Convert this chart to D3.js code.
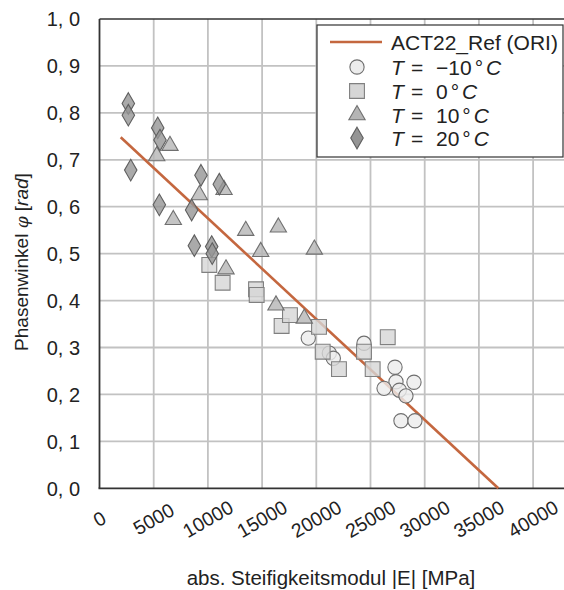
<!DOCTYPE html>
<html><head><meta charset="utf-8">
<script src="https://cdn.jsdelivr.net/npm/d3@7"></script>
<style>
html,body{margin:0;padding:0;background:#fff;}
svg{display:block;font-family:"Liberation Sans",Arial,Helvetica,sans-serif;}
</style></head>
<body>
<svg id="c" width="564" height="590"></svg>
<script>
// ---- data ----
const xTicks = [0,5000,10000,15000,20000,25000,30000,35000,40000];
const yTicks = [0,0.1,0.2,0.3,0.4,0.5,0.6,0.7,0.8,0.9,1.0];

const tM10_x = [19260,21200,21570,24400,27260,27350,26250,27660,29010,28270,27810,29100];
const tM10_y = [0.320,0.288,0.277,0.309,0.258,0.227,0.213,0.209,0.226,0.197,0.144,0.144];

const t0_x = [10130,11360,14440,14500,16800,17570,20250,20590,22090,24400,25200,26590];
const t0_y = [0.476,0.438,0.424,0.412,0.346,0.369,0.344,0.291,0.254,0.291,0.254,0.322];

const t10_x = [5280,6500,6810,9210,11490,11670,13490,14870,16500,19820,16280,18890];
const t10_y = [0.708,0.730,0.572,0.625,0.636,0.467,0.549,0.504,0.556,0.509,0.390,0.362];

const t20_x = [2660,2660,2880,5370,5580,5520,9360,11050,8500,8750,10350,10400];
const t20_y = [0.820,0.795,0.678,0.768,0.742,0.604,0.667,0.648,0.593,0.517,0.515,0.500];

const refX = [1955,36790];
const refY = [0.748,0.0];

const legendLabels = ["\u221210","0","10","20"];

// ---- chart ----
const svg = d3.select("#c");
const L = 99.5, B = 488.3, T = 19;
const x = d3.scaleLinear().domain([0,43000]).range([L, L + 43000/5000*54.2]);
const y = d3.scaleLinear().domain([0,1]).range([B, T]);
const R = x.range()[1];

const grid = svg.append("g");
grid.selectAll("line.v").data(xTicks.filter(d=>d>0)).join("line")
  .attr("x1",d=>x(d)).attr("x2",d=>x(d)).attr("y1",B).attr("y2",T)
  .attr("stroke","#c2c2c2").attr("stroke-width",1.8);
grid.selectAll("line.h").data(yTicks.filter(d=>d>0 && d<1)).join("line")
  .attr("y1",d=>y(d)).attr("y2",d=>y(d)).attr("x1",L).attr("x2",R)
  .attr("stroke","#c2c2c2").attr("stroke-width",1.8);

// frame
svg.append("line").attr("x1",L).attr("x2",R).attr("y1",T).attr("y2",T).attr("stroke","#333").attr("stroke-width",1.6);
svg.append("line").attr("x1",L).attr("x2",L).attr("y1",T).attr("y2",B).attr("stroke","#333").attr("stroke-width",1.8);
svg.append("line").attr("x1",L-1).attr("x2",R).attr("y1",B).attr("y2",B).attr("stroke","#333").attr("stroke-width",1.8);

// y tick labels
svg.append("g").selectAll("text").data(yTicks).join("text")
  .attr("x",80).attr("y",d=>y(d)).attr("dy","0.36em")
  .attr("text-anchor","end").attr("font-size",20).attr("fill","#222")
  .text(d=>d3.format(".1f")(d).replace(".", ", "));

// x tick labels rotated
svg.append("g").selectAll("text").data(xTicks).join("text")
  .attr("transform",d=>`translate(${x(d)},519) rotate(-30)`)
  .attr("text-anchor","middle").attr("dy","0.35em")
  .attr("font-size",19.5).attr("fill","#222")
  .text(d=>String(d));

// axis titles
const yt = svg.append("text").attr("transform","translate(28,262) rotate(-90)")
  .attr("text-anchor","middle").attr("font-size",19).attr("fill","#222");
yt.append("tspan").text("Phasenwinkel ");
yt.append("tspan").attr("font-style","italic").attr("font-family","DejaVu Serif").attr("font-size",17).text("\u03C6");
yt.append("tspan").text(" [");
yt.append("tspan").attr("font-style","italic").text("rad");
yt.append("tspan").text("]");

svg.append("text").attr("x",331).attr("y",585).attr("text-anchor","middle")
  .attr("font-size",20.5).attr("fill","#222").text("abs. Steifigkeitsmodul |E| [MPa]");

// regression line
const line = d3.line().x(d=>x(d[0])).y(d=>y(d[1]));
svg.append("path").datum(d3.zip(refX,refY)).attr("d",line)
  .attr("fill","none").attr("stroke","#c4673f").attr("stroke-width",2.6);

// markers
const series = [
  {xs:tM10_x, ys:tM10_y, type:d3.symbolCircle, size:160, fill:"#ececec", stroke:"#6f6f6f"},
  {xs:t0_x, ys:t0_y, type:d3.symbolSquare, size:220, fill:"#d6d6d6", stroke:"#808080"},
  {xs:t10_x, ys:t10_y, type:d3.symbolTriangle, size:115, fill:"#b5b5b5", stroke:"#707070"},
  {xs:t20_x, ys:t20_y, type:d3.symbolDiamond, size:135, fill:"#959595", stroke:"#5f5f5f"}
];
series.forEach(s=>{
  svg.append("g").selectAll("path").data(d3.zip(s.xs,s.ys)).join("path")
    .attr("transform",d=>`translate(${x(d[0])},${y(d[1])})`)
    .attr("d",d3.symbol().type(s.type).size(s.size)())
    .attr("fill",s.fill).attr("fill-opacity",0.8)
    .attr("stroke",s.stroke).attr("stroke-width",1.1);
});

// legend
const lg = svg.append("g");
lg.append("rect").attr("x",317).attr("y",25).attr("width",246).attr("height",132)
  .attr("fill","#fff").attr("stroke","#333").attr("stroke-width",1.2);
lg.append("line").attr("x1",330).attr("x2",382).attr("y1",42).attr("y2",42)
  .attr("stroke","#c4673f").attr("stroke-width",2.6);
lg.append("text").attr("x",391).attr("y",42).attr("dy","0.36em").attr("font-size",21).attr("fill","#222")
  .text("ACT22_Ref (ORI)");
const rowsY = [67,91,115,138];
series.forEach((s,i)=>{
  lg.append("path").attr("transform",`translate(357,${rowsY[i]})`)
    .attr("d",d3.symbol().type(s.type).size(s.size)())
    .attr("fill",s.fill).attr("stroke",s.stroke).attr("stroke-width",1.1);
  const g = lg.append("text").attr("y",rowsY[i]).attr("dy","0.36em")
    .attr("font-size",21).attr("fill","#222");
  g.append("tspan").attr("x",391).attr("font-style","italic").text("T");
  g.append("tspan").attr("x",411).text("=");
  g.append("tspan").attr("x",436).text(legendLabels[i]);
  g.append("tspan").attr("dx",3).text("\u00B0");
  g.append("tspan").attr("dx",3).attr("font-style","italic").text("C");
});
</script>
</body></html>
